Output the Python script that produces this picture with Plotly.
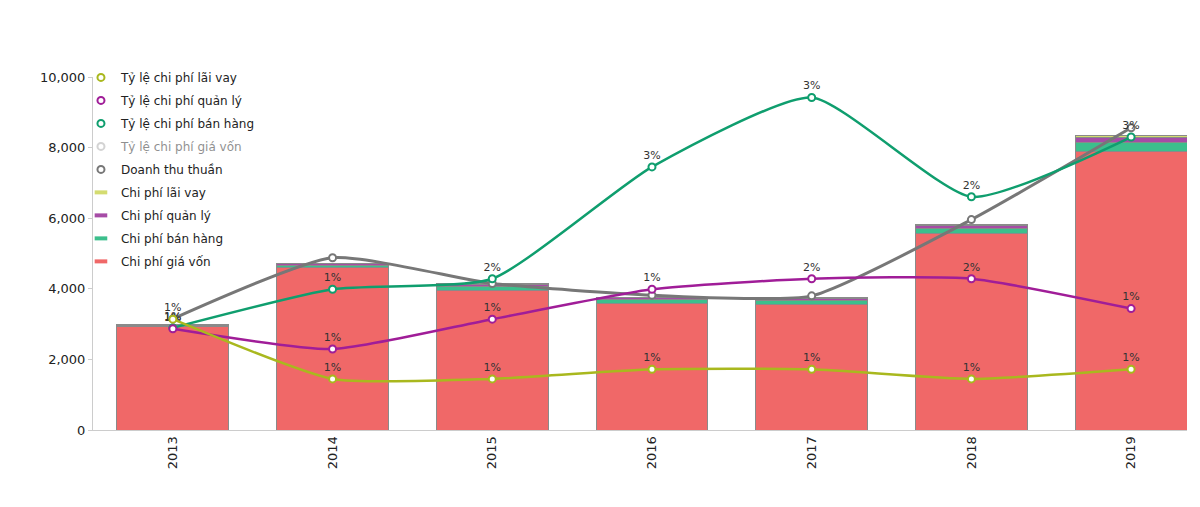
import plotly.graph_objects as go

years = ["2013", "2014", "2015", "2016", "2017", "2018", "2019"]

# Bars (stacked costs)
chi_phi_gia_von = [2920, 4590, 3960, 3570, 3560, 5570, 7900]
chi_phi_ban_hang = [30, 80, 100, 120, 120, 150, 250]
chi_phi_quan_ly = [15, 40, 60, 50, 40, 80, 140]
chi_phi_lai_vay = [10, 20, 30, 20, 20, 30, 40]

# Revenue line
doanh_thu_thuan = [3150, 4880, 4150, 3820, 3800, 5960, 8560]

# Ratio lines (%)
ty_le_lai_vay = [1.15, 0.53, 0.53, 0.63, 0.63, 0.53, 0.63]
ty_le_quan_ly = [1.05, 0.84, 1.15, 1.46, 1.57, 1.57, 1.26]
ty_le_ban_hang = [1.06, 1.46, 1.57, 2.73, 3.45, 2.42, 3.04]
ty_le_gia_von = [92.7, 94.1, 95.4, 93.5, 93.7, 93.5, 92.3]

yticks = [0, 2000, 4000, 6000, 8000, 10000]

C_LAI = "#a9b81e"
C_QL = "#a01d98"
C_BH = "#0f9e6e"
C_GV = "#a8a8a8"
C_DT = "#777777"
SM = 0.55

fig = go.Figure()

def legend_dot(name, color, rank, visible=True):
    fig.add_trace(go.Scatter(
        x=[None], y=[None], name=name, legendrank=rank, legendgroup=name,
        mode="markers", visible=visible,
        marker=dict(size=7, color="white", line=dict(color=color, width=2)),
    ))

def legend_bar(name, color, rank):
    fig.add_trace(go.Scatter(
        x=[None], y=[None], name=name, legendrank=rank, legendgroup=name,
        mode="markers",
        marker=dict(symbol="line-ew", size=9, line=dict(color=color, width=4)),
    ))

def bar(name, vals, color, rank):
    fig.add_trace(go.Bar(
        x=years, y=vals, name=name, showlegend=False,
        marker=dict(color=color, line=dict(color="#8a8a8a", width=1)),
    ))
    legend_bar(name, color, rank)

bar("Chi phí giá vốn", chi_phi_gia_von, "#f06868", 9)
bar("Chi phí bán hàng", chi_phi_ban_hang, "#3cbf8c", 8)
bar("Chi phí quản lý", chi_phi_quan_ly, "#a64ca6", 7)
bar("Chi phí lãi vay", chi_phi_lai_vay, "#d4dc70", 6)

fig.add_trace(go.Scatter(
    x=years, y=doanh_thu_thuan, name="Doanh thu thuần", showlegend=False,
    mode="lines+markers", line=dict(color=C_DT, width=3, shape="spline", smoothing=SM),
    marker=dict(size=7, color="white", line=dict(color=C_DT, width=2)),
))
legend_dot("Doanh thu thuần", C_DT, 5)

def ratio(name, vals, color, rank, visible=True):
    fig.add_trace(go.Scatter(
        x=years, y=vals, name=name, showlegend=False, yaxis="y2",
        visible=visible,
        mode="lines+markers+text", texttemplate="%{y:.0f}%",
        textposition="top center",
        textfont=dict(size=11, color="#333333"),
        line=dict(color=color, width=2.5, shape="spline", smoothing=SM),
        marker=dict(size=7, color="white", line=dict(color=color, width=2)),
    ))
    legend_dot(name, color, rank, True if visible is True else "legendonly")

ratio("Tỷ lệ chi phí giá vốn", ty_le_gia_von, C_GV, 4, False)
ratio("Tỷ lệ chi phí bán hàng", ty_le_ban_hang, C_BH, 3)
ratio("Tỷ lệ chi phí quản lý", ty_le_quan_ly, C_QL, 2)
ratio("Tỷ lệ chi phí lãi vay", ty_le_lai_vay, C_LAI, 1)

fig.update_layout(
    width=1200, height=507,
    barmode="stack", bargap=0.3,
    paper_bgcolor="white", plot_bgcolor="white",
    margin=dict(l=85, r=21, t=69, b=85),
    font=dict(family="DejaVu Sans", size=11, color="#333333"),
    showlegend=True,
    legend=dict(
        x=-0.011, y=1.04, xanchor="left", yanchor="top",
        traceorder="grouped", bgcolor="rgba(255,255,255,0)",
        font=dict(size=12, color="#222222"),
        itemsizing="trace", tracegroupgap=4,
    ),
    xaxis=dict(
        type="category", range=[-0.5, 6.35],
        tickangle=-90, showgrid=False,
        showline=True, linecolor="#cccccc", linewidth=1,
        ticks="", tickfont=dict(size=13, color="#222222"),
    ),
    yaxis=dict(
        range=[0, 10000], tickvals=yticks, tickformat=",d",
        showgrid=False, zeroline=False,
        showline=True, linecolor="#cccccc", linewidth=1,
        ticks="outside", ticklen=4, tickcolor="#cccccc",
        tickfont=dict(size=13, color="#222222"),
    ),
    yaxis2=dict(
        overlaying="y", side="right", range=[0, 3.663],
        visible=False, showgrid=False, zeroline=False,
    ),
)

fig.write_html("out.html")
